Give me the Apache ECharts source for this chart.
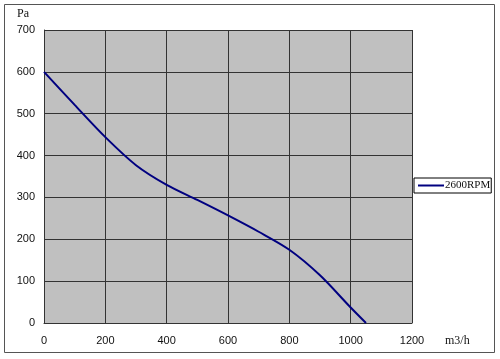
<!DOCTYPE html>
<html>
<head>
<meta charset="utf-8">
<script src="https://cdn.jsdelivr.net/npm/echarts@6/dist/echarts.min.js"></script>
<style>
  html, body { margin: 0; padding: 0; background: #fff; }
  #chart { width: 500px; height: 359px; }
</style>
</head>
<body>
<div id="chart"></div>
<script>
// flow (m3/h) vs static pressure (Pa)
var flow = [0, 100, 200, 300, 400, 500, 600, 700, 800, 900, 1000, 1050];
var pressure = [600, 521, 444, 377, 330, 294, 257, 218, 175, 114, 37, 0];
var seriesName = "2600RPM";

var chartInstance = echarts.init(document.getElementById("chart"));

var points = [];
for (var i = 0; i < flow.length; i++) {
  points.push([flow[i], pressure[i]]);
}

var labelFont = {
  color: "#111",
  fontSize: 11,
  fontFamily: "Liberation Sans, Arial, sans-serif",
  formatter: function (v) { return String(v); },
};

var option = {
  backgroundColor: "#fff",
  animation: false,
  graphic: [
    {
      type: "rect",
      shape: { x: 4.5, y: 4.5, width: 490, height: 348 },
      style: { fill: "none", stroke: "#555", lineWidth: 1 },
    },
    {
      type: "text",
      left: 17,
      top: 8,
      style: { text: "Pa", fill: "#111", font: "12px 'Liberation Serif', serif" },
    },
    {
      type: "text",
      left: 445,
      top: 335,
      style: { text: "m3/h", fill: "#111", font: "12px 'Liberation Serif', serif" },
    },
  ],
  legend: {
    data: [seriesName],
    left: 414,
    top: 178,
    orient: "vertical",
    padding: [2, 1, 2, 4],
    borderColor: "#000",
    borderWidth: 1,
    icon: "rect",
    itemWidth: 26,
    itemHeight: 2,
    itemGap: 0,
    textStyle: {
      color: "#111",
      fontSize: 11,
      fontFamily: "Liberation Serif, serif",
      padding: [0, 0, 0, -4],
    },
  },
  grid: {
    left: 44,
    right: 88,
    top: 30,
    bottom: 36,
    show: true,
    backgroundColor: "#c0c0c0",
    borderWidth: 0,
  },
  xAxis: {
    type: "value",
    min: 0,
    max: 1200,
    interval: 200,
    axisLine: { show: true, lineStyle: { color: "#333", width: 1 } },
    axisTick: { show: false },
    axisLabel: Object.assign({ margin: 12 }, labelFont),
    splitLine: { show: true, lineStyle: { color: "#333", width: 1 } },
  },
  yAxis: {
    type: "value",
    min: 0,
    max: 700,
    interval: 100,
    axisLine: { show: true, lineStyle: { color: "#333", width: 1 } },
    axisTick: { show: false },
    axisLabel: Object.assign({ margin: 9 }, labelFont),
    splitLine: { show: true, lineStyle: { color: "#333", width: 1 } },
  },
  series: [
    {
      name: seriesName,
      type: "line",
      smooth: 0.3,
      symbol: "none",
      lineStyle: { color: "#000080", width: 2 },
      itemStyle: { color: "#000080" },
      data: points,
    },
  ],
};

chartInstance.setOption(option);
</script>
</body>
</html>
